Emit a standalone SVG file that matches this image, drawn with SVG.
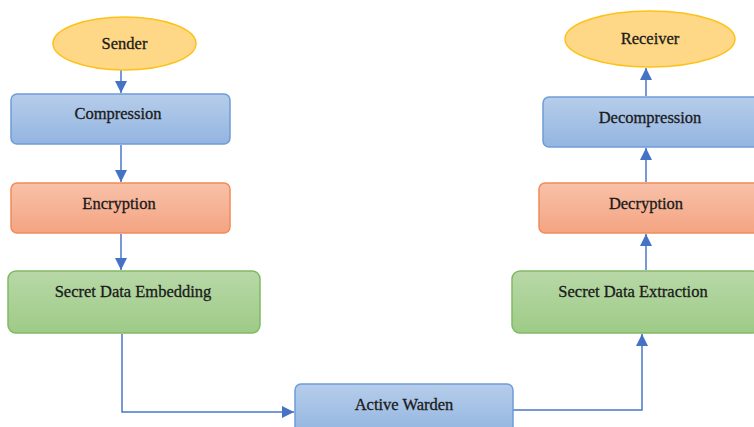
<svg xmlns="http://www.w3.org/2000/svg" width="754" height="427" viewBox="0 0 754 427">
<defs>
<linearGradient id="gb" x1="0" y1="0" x2="0" y2="1"><stop offset="0" stop-color="#b6cdea"/><stop offset="1" stop-color="#93b5e1"/></linearGradient>
<linearGradient id="go" x1="0" y1="0" x2="0" y2="1"><stop offset="0" stop-color="#f8c1a9"/><stop offset="1" stop-color="#f4a482"/></linearGradient>
<linearGradient id="gg" x1="0" y1="0" x2="0" y2="1"><stop offset="0" stop-color="#b8d8a7"/><stop offset="1" stop-color="#9ecb87"/></linearGradient>
<marker id="ah" viewBox="0 0 10 10" refX="10" refY="5" markerWidth="12" markerHeight="12" markerUnits="userSpaceOnUse" orient="auto"><path d="M0,0 L10,5 L0,10 z" fill="#4472c4"/></marker>
</defs>
<style>
.t{font-family:'Liberation Serif','DejaVu Serif',serif;font-size:16.5px;fill:#1a1a1a;text-anchor:middle;stroke:#1a1a1a;stroke-width:0.3}
.b{fill:url(#gb);stroke:#6f9cd6;stroke-width:1.5}
.o{fill:url(#go);stroke:#ef8c58;stroke-width:1.5}
.g{fill:url(#gg);stroke:#80b964;stroke-width:1.5}
.e{fill:#fed886;stroke:#fdc21a;stroke-width:1.5}
.c{fill:none;stroke:#4a78c8;stroke-width:1.5}
</style>
<g id="connectors">
<path class="c" d="M121,70 V93" marker-end="url(#ah)"/>
<path class="c" d="M121,145 V182" marker-end="url(#ah)"/>
<path class="c" d="M121,234 V270" marker-end="url(#ah)"/>
<path class="c" d="M122,334 V412 H294" marker-end="url(#ah)"/>
<path class="c" d="M513,410 H642 V334" marker-end="url(#ah)"/>
<path class="c" d="M646,270 V234" marker-end="url(#ah)"/>
<path class="c" d="M646,182 V148" marker-end="url(#ah)"/>
<path class="c" d="M646,96 V68" marker-end="url(#ah)"/>
</g>
<g id="sender"><ellipse class="e" cx="124.5" cy="43.5" rx="71.5" ry="26.5"/><text class="t" x="124.5" y="49">Sender</text></g>
<g id="compression"><rect class="b" x="11" y="94" width="219" height="50" rx="6"/><text class="t" x="118" y="119">Compression</text></g>
<g id="encryption"><rect class="o" x="11" y="183" width="219" height="50" rx="6"/><text class="t" x="119" y="209">Encryption</text></g>
<g id="embedding"><rect class="g" x="8" y="271" width="252" height="62" rx="8"/><text class="t" x="133" y="297">Secret Data Embedding</text></g>
<g id="warden"><rect class="b" x="295" y="384" width="218" height="50" rx="6"/><text class="t" x="404" y="410">Active Warden</text></g>
<g id="extraction"><rect class="g" x="512" y="271" width="248" height="62" rx="8"/><text class="t" x="633" y="297">Secret Data Extraction</text></g>
<g id="decryption"><rect class="o" x="539" y="183" width="221" height="50" rx="6"/><text class="t" x="646" y="209">Decryption</text></g>
<g id="decompression"><rect class="b" x="543" y="97" width="217" height="50" rx="6"/><text class="t" x="650" y="123">Decompression</text></g>
<g id="receiver"><ellipse class="e" cx="650" cy="39" rx="85" ry="28"/><text class="t" x="650" y="44">Receiver</text></g>
</svg>
